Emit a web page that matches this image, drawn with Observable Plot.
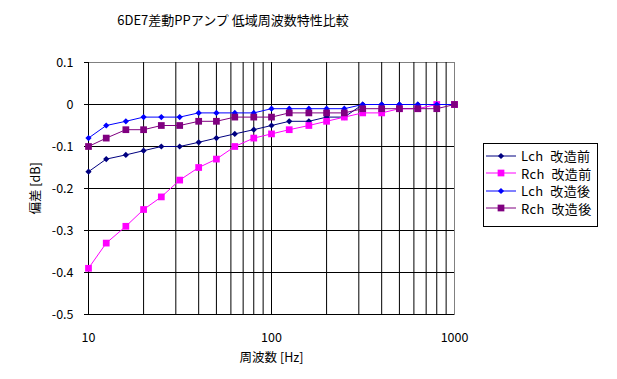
<!DOCTYPE html>
<html><head><meta charset="utf-8">
<script src="https://cdn.jsdelivr.net/npm/d3@7"></script>
<script src="https://cdn.jsdelivr.net/npm/@observablehq/plot@0.6"></script>
<style>
body{margin:0;background:#fff;font-family:"Noto Sans CJK JP","Noto Sans",sans-serif;}
#wrap{position:relative;width:617px;height:379px;}
#title{position:absolute;left:0;width:466px;top:10px;text-align:center;font-size:13px;color:#000;white-space:nowrap;}
#legend{position:absolute;left:483px;top:143px;width:115px;height:84px;border:1px solid #000;box-sizing:border-box;background:#fff;padding-top:3px;}
.row{display:flex;align-items:center;height:17.5px;font-size:13px;letter-spacing:0.4px;color:#000;white-space:pre;}
.row svg{margin-left:2px;margin-right:5px;}
</style></head><body>
<div id="wrap"><div id="chart"></div><div id="title"></div><div id="legend"></div></div>
<script>
const titleText = "6DE7差動PPアンプ 低域周波数特性比較";
const xLabel = "周波数 [Hz]";
const yLabel = "偏差 [dB]";
const freqs = [10,12.5,16,20,25,31.5,40,50,63,80,100,125,160,200,250,315,400,500,630,800,1000];
const lchBefore = [-0.16,-0.13,-0.12,-0.11,-0.10,-0.10,-0.09,-0.08,-0.07,-0.06,-0.05,-0.04,-0.04,-0.03,-0.03,0,0,0,0,0,0];
const rchBefore = [-0.39,-0.33,-0.29,-0.25,-0.22,-0.18,-0.15,-0.13,-0.10,-0.08,-0.07,-0.06,-0.05,-0.04,-0.03,-0.02,-0.02,-0.01,-0.01,0,0];
const lchAfter  = [-0.08,-0.05,-0.04,-0.03,-0.03,-0.03,-0.02,-0.02,-0.02,-0.02,-0.01,-0.01,-0.01,-0.01,-0.01,0,0,0,0,0,0];
const rchAfter  = [-0.10,-0.08,-0.06,-0.06,-0.05,-0.05,-0.04,-0.04,-0.03,-0.03,-0.03,-0.02,-0.02,-0.02,-0.02,-0.01,-0.01,-0.01,-0.01,-0.01,0];
const seriesNames = ["Lch 改造前","Rch 改造前","Lch 改造後","Rch 改造後"];
const seriesColors = ["#000080","#FF00FF","#0000FF","#800080"];
const seriesSymbols = ["diamond2","square","diamond2","square"];
const seriesR = [2.8,3.8,2.8,3.8];
const xGridTicks = [10,20,30,40,50,60,70,80,90,100,200,300,400,500,600,700,800,900];
const xTickLabels = [10,100,1000];
const yTicks = [-0.5,-0.4,-0.3,-0.2,-0.1,0,0.1];
const yGridTicks = [-0.5,-0.4,-0.3,-0.2,-0.1,0];

const allSeries = [lchBefore, rchBefore, lchAfter, rchAfter];
const marks = [
  Plot.frame({stroke:"#808080"}),
  Plot.gridX(xGridTicks, {stroke:"#000", strokeOpacity:1}),
  Plot.gridY(yGridTicks, {stroke:"#000", strokeOpacity:1}),
  Plot.axisY({ticks:yTicks, tickSize:4, tickPadding:11, tickFormat:d => d===0 ? "0" : d.toFixed(1), fontSize:12.5,
    label:yLabel, labelAnchor:"center", labelArrow:"none", labelOffset:57}),
  Plot.axisX({ticks:xTickLabels, tickSize:0, tickPadding:19, tickFormat:d => String(d), fontSize:12.5,
    label:xLabel, labelAnchor:"center", labelArrow:"none", labelOffset:47})
];
allSeries.forEach((vals, k) => {
  const rows = freqs.map((f, i) => ({f, v: vals[i]}));
  marks.push(Plot.line(rows, {x:"f", y:"v", stroke:seriesColors[k], strokeWidth:1}));
  marks.push(Plot.dot(rows, {x:"f", y:"v", fill:seriesColors[k], stroke:"none", symbol:seriesSymbols[k], r:seriesR[k]}));
});

const chart = Plot.plot({
  width:617, height:379,
  marginLeft:88, marginRight:163, marginTop:62, marginBottom:65,
  style:{fontFamily:'"Noto Sans CJK JP","Noto Sans",sans-serif', fontSize:"12.5px", color:"#000", background:"#fff"},
  x:{type:"log", domain:[10,1000]},
  y:{domain:[-0.5,0.1]},
  marks
});
document.getElementById("chart").appendChild(chart);
document.getElementById("title").textContent = titleText;

const legend = document.getElementById("legend");
seriesNames.forEach((name, k) => {
  const row = document.createElement("div");
  row.className = "row";
  const svg = d3.create("svg").attr("width",30).attr("height",12);
  svg.append("line").attr("x1",0).attr("x2",30).attr("y1",6).attr("y2",6).attr("stroke",seriesColors[k]).attr("stroke-width",1);
  const sym = seriesSymbols[k] === "square" ? d3.symbolSquare : d3.symbolDiamond2;
  svg.append("path").attr("transform","translate(15,6)").attr("fill",seriesColors[k])
    .attr("d", d3.symbol(sym, Math.PI*seriesR[k]*seriesR[k])());
  row.appendChild(svg.node());
  const span = document.createElement("span");
  span.textContent = name.replace(" ", "  ");
  row.appendChild(span);
  legend.appendChild(row);
});
</script>
</body></html>
